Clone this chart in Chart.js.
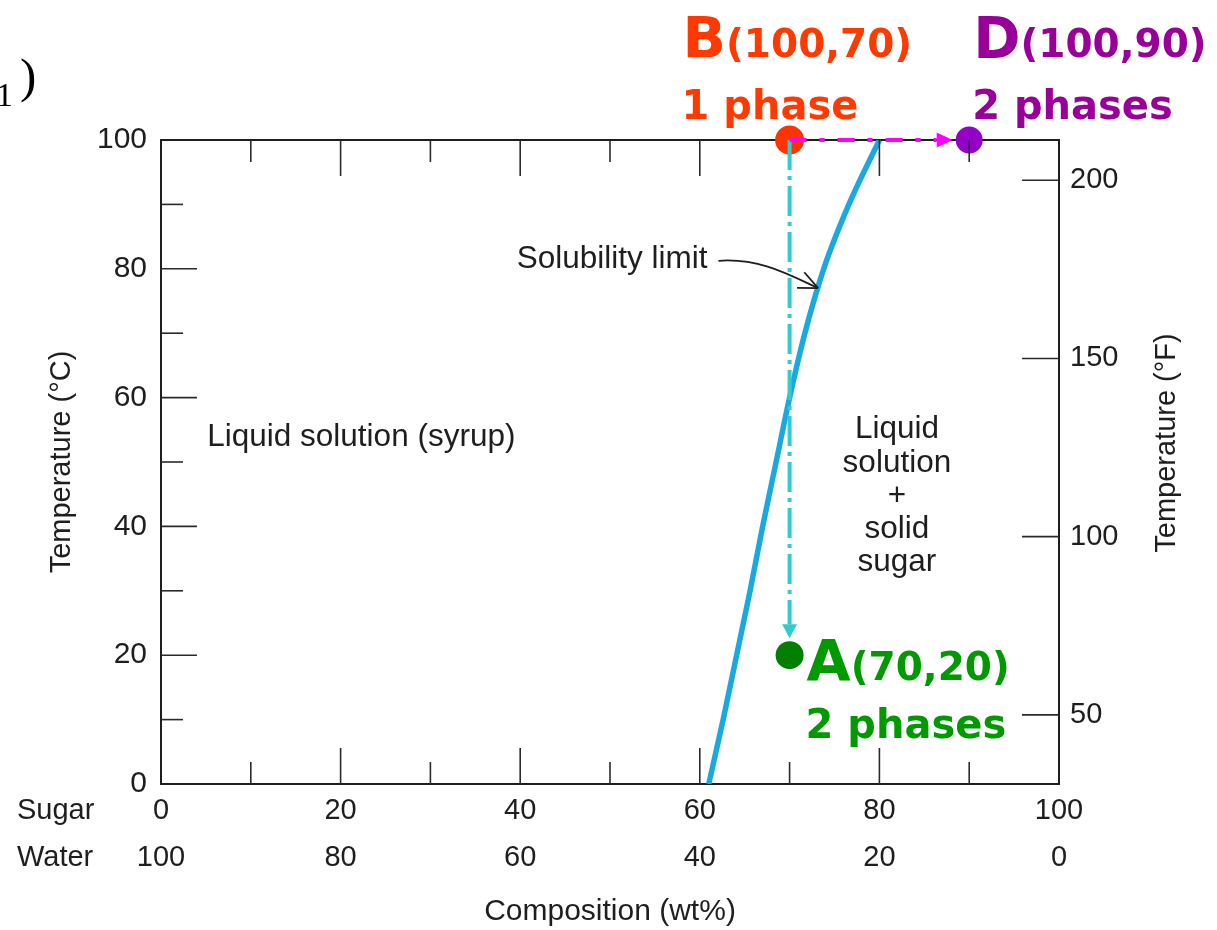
<!DOCTYPE html>
<html>
<head>
<meta charset="utf-8">
<script src="https://cdn.jsdelivr.net/npm/chart.js@4.4.1/dist/chart.umd.min.js"></script>
<style>
  html, body { margin: 0; padding: 0; background: #fff; }
  #wrap { width: 1217px; height: 930px; position: relative; }
</style>
</head>
<body>
<div id="wrap"><canvas id="c"></canvas></div>
<script>
// Sugar–water phase diagram: solubility limit of sugar (wt%) vs temperature (°C)
const tempC      = [0, 10, 20, 30, 40, 50, 60, 70, 80, 90, 100];
const solubility = [61.0, 62.6, 64.1, 65.6, 67.0, 68.5, 70.0, 71.7, 73.8, 76.6, 80.0];

// Marked states: name, sugar composition (wt%), temperature (°C), caption, phase count
const pointNames    = ['B', 'D', 'A'];
const pointSugar    = [70, 90, 70];
const pointTemp     = [100, 100, 20];
const pointCaptions = ['(100,70)', '(100,90)', '(70,20)'];
const pointPhases   = ['1 phase', '2 phases', '2 phases'];

// Axis ticks
const sugarTicks        = [0, 20, 40, 60, 80, 100];
const waterTicks        = [100, 80, 60, 40, 20, 0];
const sugarMinorTicks   = [10, 30, 50, 70, 90];
const celsiusTicks      = [0, 20, 40, 60, 80, 100];
const celsiusMinorTicks = [10, 30, 50, 70, 90];
const fahrenheitTicks   = [50, 100, 150, 200];

// Region captions
const leftRegionText  = 'Liquid solution (syrup)';
const rightRegionText = ['Liquid', 'solution', '+', 'solid', 'sugar'];
const curveCaption    = 'Solubility limit';

// ---- styling ----
const INK = '#1e1e1e';
const SANS = '"Liberation Sans", Arial, sans-serif';
const BOLD = '"DejaVu Sans", sans-serif';
const dotColors  = ['#ff3300', '#9400c8', '#007f00'];
const dotRadii   = [14.5, 13.5, 14];
const textColors = ['#ff3a00', '#990099', '#009900'];
const labelDx = [-107, 4, 17];
const labelDy = [-82, -82, 26];
const phaseDy = [-21, -21, 83];

function interpSugarAt(t) {
  for (let i = 0; i < tempC.length - 1; i++) {
    if (t >= tempC[i] && t <= tempC[i + 1]) {
      const f = (t - tempC[i]) / (tempC[i + 1] - tempC[i]);
      return solubility[i] + f * (solubility[i + 1] - solubility[i]);
    }
  }
  return solubility[solubility.length - 1];
}

const overlay = {
  id: 'overlay',
  afterDatasetsDraw(chart) {
    const { ctx, chartArea: a, scales } = chart;
    const x = scales.x, y = scales.y, yF = scales.yF;
    const px = v => x.getPixelForValue(v);
    const py = v => y.getPixelForValue(v);
    ctx.save();

    // inward tick marks on all four sides
    ctx.strokeStyle = '#2a2a2a';
    ctx.lineWidth = 1.6;
    const seg = (x1, y1, x2, y2) => { ctx.beginPath(); ctx.moveTo(x1, y1); ctx.lineTo(x2, y2); ctx.stroke(); };
    sugarTicks.forEach(v => { if (v > 0 && v < 100) { const X = px(v); seg(X, a.bottom, X, a.bottom - 36); seg(X, a.top, X, a.top + 36); } });
    sugarMinorTicks.forEach(v => { const X = px(v); seg(X, a.bottom, X, a.bottom - 22); seg(X, a.top, X, a.top + 22); });
    celsiusTicks.forEach(v => { if (v > 0 && v < 100) { const Y = py(v); seg(a.left, Y, a.left + 36, Y); } });
    celsiusMinorTicks.forEach(v => { const Y = py(v); seg(a.left, Y, a.left + 22, Y); });
    fahrenheitTicks.forEach(v => { const Y = yF.getPixelForValue(v); seg(a.right, Y, a.right - 37, Y); });

    // dash-dot arrows leaving state B
    function dashedArrow(x1, y1, x2, y2, color, dash, headLen, headHalf) {
      const ang = Math.atan2(y2 - y1, x2 - x1);
      const bx = x2 - headLen * Math.cos(ang), by = y2 - headLen * Math.sin(ang);
      ctx.strokeStyle = color; ctx.lineWidth = 4; ctx.lineCap = 'butt';
      ctx.setLineDash(dash);
      ctx.beginPath(); ctx.moveTo(x1, y1); ctx.lineTo(bx, by); ctx.stroke();
      ctx.setLineDash([]);
      ctx.fillStyle = color;
      ctx.beginPath();
      ctx.moveTo(x2, y2);
      ctx.lineTo(bx - headHalf * Math.sin(ang), by + headHalf * Math.cos(ang));
      ctx.lineTo(bx + headHalf * Math.sin(ang), by - headHalf * Math.cos(ang));
      ctx.closePath(); ctx.fill();
    }
    const bX = px(pointSugar[0]), bY = py(pointTemp[0]);
    const dX = px(pointSugar[1]);
    const aY = py(pointTemp[2]);
    dashedArrow(bX, bY, bX, aY - dotRadii[2] - 3, '#33cccc', [30, 6, 4, 6], 14, 7.5);
    dashedArrow(bX, bY, dX - dotRadii[1] - 3, bY, '#ff00ff', [17, 13, 5, 13], 16, 7.5);

    // state labels
    ctx.textAlign = 'left';
    ctx.textBaseline = 'alphabetic';
    pointNames.forEach((n, i) => {
      const X = px(pointSugar[i]) + labelDx[i];
      const Y = py(pointTemp[i]) + labelDy[i];
      ctx.fillStyle = textColors[i];
      ctx.font = 'bold 57px ' + BOLD;
      ctx.fillText(n, X, Y);
      const w = ctx.measureText(n).width;
      ctx.font = 'bold 39px ' + BOLD;
      ctx.fillText(pointCaptions[i], X + w, Y - 1);
      ctx.font = 'bold 40px ' + BOLD;
      ctx.fillText(pointPhases[i], X - 1, py(pointTemp[i]) + phaseDy[i]);
    });

    // region captions
    ctx.fillStyle = INK;
    ctx.font = '31.5px ' + SANS;
    ctx.textBaseline = 'middle';
    ctx.textAlign = 'left';
    ctx.fillText(leftRegionText, px(5.15), py(53.9));
    ctx.textAlign = 'center';
    rightRegionText.forEach((t, i) => ctx.fillText(t, px(81.95), py(55.0) + i * 33.2));
    ctx.textAlign = 'right';
    const capX = px(60.85), capY = py(81.4);
    ctx.fillText(curveCaption, capX, capY);

    // leader arrow from the caption to the solubility curve
    const tipT = 77;
    const tx = px(interpSugarAt(tipT)), ty = py(tipT);
    const sx = capX + 11, sy = capY + 1;
    const c2x = tx - 28, c2y = ty - 13;
    ctx.strokeStyle = INK; ctx.lineWidth = 1.8;
    ctx.beginPath();
    ctx.moveTo(sx, sy);
    ctx.bezierCurveTo(sx + 42, sy - 3, c2x, c2y, tx, ty);
    ctx.stroke();
    const ang = Math.atan2(ty - c2y, tx - c2x);
    [0.42, -0.42].forEach(d => {
      ctx.beginPath();
      ctx.moveTo(tx, ty);
      ctx.lineTo(tx - 21 * Math.cos(ang + d), ty - 21 * Math.sin(ang + d));
      ctx.stroke();
    });

    // composition row headers
    ctx.fillStyle = INK;
    ctx.font = '29px ' + SANS;
    ctx.textAlign = 'left';
    ctx.textBaseline = 'middle';
    ctx.fillText('Sugar', 17, a.bottom + 27);
    ctx.fillText('Water', 17, a.bottom + 74);

    // right-hand axis title, reading upward
    ctx.save();
    ctx.translate(1167, 443);
    ctx.rotate(-Math.PI / 2);
    ctx.textAlign = 'center';
    ctx.font = '29px ' + SANS;
    ctx.fillText('Temperature (°F)', 0, 0);
    ctx.restore();

    // equation-number fragment at the top-left corner
    ctx.fillStyle = '#000';
    ctx.textBaseline = 'alphabetic';
    ctx.textAlign = 'left';
    ctx.font = '34px "Liberation Serif", serif';
    ctx.fillText('1', -4, 106);
    ctx.font = '49px "Liberation Serif", serif';
    ctx.fillText(')', 20, 92);

    ctx.restore();
  }
};

const border = { display: true, color: INK, width: 2 };
const hiddenGrid = { display: true, drawOnChartArea: false, drawTicks: false };

new Chart(document.getElementById('c'), {
  type: 'scatter',
  data: {
    datasets: [
      {
        label: 'Solubility limit',
        data: tempC.map((t, i) => ({ x: solubility[i], y: t })),
        showLine: true,
        borderColor: '#19a9e0',
        borderWidth: 5.5,
        pointRadius: 0,
        cubicInterpolationMode: 'monotone',
        fill: false,
        xAxisID: 'x', yAxisID: 'y'
      },
      {
        label: 'States',
        data: pointNames.map((n, i) => ({ x: pointSugar[i], y: pointTemp[i] })),
        pointRadius: dotRadii,
        pointBackgroundColor: dotColors,
        pointBorderWidth: 0,
        clip: false,
        xAxisID: 'x', yAxisID: 'y'
      }
    ]
  },
  options: {
    responsive: true,
    maintainAspectRatio: false,
    devicePixelRatio: 1,
    animation: false,
    events: [],
    layout: { padding: 0 },
    plugins: { legend: { display: false }, tooltip: { enabled: false } },
    scales: {
      x: {
        type: 'linear', position: 'bottom', min: 0, max: 100,
        afterFit: s => { s.height = 146; },
        afterBuildTicks: s => { s.ticks = sugarTicks.map(v => ({ value: v })); },
        grid: hiddenGrid, border,
        ticks: {
          autoSkip: false, maxRotation: 0, padding: 4, color: INK,
          font: { family: SANS, size: 29, lineHeight: 1.62 },
          callback: (v, i) => [String(sugarTicks[i]), String(waterTicks[i])]
        },
        title: { display: true, text: 'Composition (wt%)', color: INK,
                 font: { family: SANS, size: 30, lineHeight: 1.2 }, padding: { top: 0, bottom: 0 } }
      },
      xTop: {
        type: 'linear', position: 'top', min: 0, max: 100,
        afterFit: s => { s.height = 140; },
        grid: hiddenGrid, border,
        ticks: { display: false }
      },
      y: {
        type: 'linear', position: 'left', min: 0, max: 100,
        afterFit: s => { s.width = 161; },
        afterBuildTicks: s => { s.ticks = celsiusTicks.map(v => ({ value: v })); },
        grid: hiddenGrid, border,
        ticks: { padding: 14, color: INK, font: { family: SANS, size: 30 } },
        title: { display: true, text: 'Temperature (°C)', color: INK,
                 font: { family: SANS, size: 29, lineHeight: 1.2 }, padding: { top: 45, bottom: 0 } }
      },
      yF: {
        type: 'linear', position: 'right', min: 30.6, max: 211.3,
        afterFit: s => { s.width = 158; },
        afterBuildTicks: s => { s.ticks = fahrenheitTicks.map(v => ({ value: v })); },
        grid: hiddenGrid, border,
        ticks: { padding: 11, color: INK, font: { family: SANS, size: 29 } }
      }
    }
  },
  plugins: [overlay]
});
</script>
</body>
</html>
